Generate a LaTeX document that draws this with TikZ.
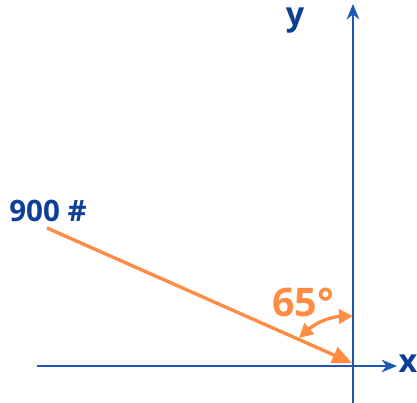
\documentclass[tikz,border=0pt]{standalone}
\usepackage{fontspec}
\setmainfont{Open Sans}
\usetikzlibrary{arrows.meta}
\definecolor{axisblue}{HTML}{1F55B5}
\definecolor{textblue}{HTML}{0D3F96}
\definecolor{vecorange}{HTML}{FF8C42}
\begin{document}
\begin{tikzpicture}[
  x=0.025cm, y=0.025cm,
  axis/.style={-{Stealth[length=11pt,width=9pt]},axisblue,line width=1.3pt},
  vector/.style={-{Triangle[length=14pt,width=12pt]},vecorange,line width=2.4pt},
  angarc/.style={{Triangle[length=10pt,width=10pt]}-{Triangle[length=10pt,width=10pt]},vecorange,line width=2.4pt},
  axlabel/.style={font=\fontsize{23}{25}\selectfont\bfseries,text=textblue},
  forcelabel/.style={font=\fontsize{21}{24}\selectfont\bfseries,text=textblue},
  anglabel/.style={font=\fontsize{28}{30}\selectfont\bfseries,text=vecorange}
]
\useasboundingbox (-353,-37) rectangle (64,366);
% axes
\coordinate (o) at (0,0);
\coordinate (xs) at (-316,0);
\coordinate (xe) at (44,0);
\coordinate (ys) at (0,-37);
\coordinate (ye) at (0,362);
\draw[axis] (xs) -- (xe);
\draw[axis] (ys) -- (ye);
\node[axlabel] (xl) at (55,2) {x};
\node[axlabel] (yl) at (-58,345) {y};
% force
\coordinate (fs) at (-306,138);
\coordinate (fe) at (-1,3);
\draw[vector] (fs) -- (fe);
\node[forcelabel] (fl) at (-305,155) {900 \#};
% angle
\coordinate (a1) at (-54,28);
\coordinate (a2) at (0,50);
\draw[angarc] (a1) to[bend left=20] (a2);
\node[anglabel] (al) at (-50,64) {65°};
\end{tikzpicture}
\end{document}
